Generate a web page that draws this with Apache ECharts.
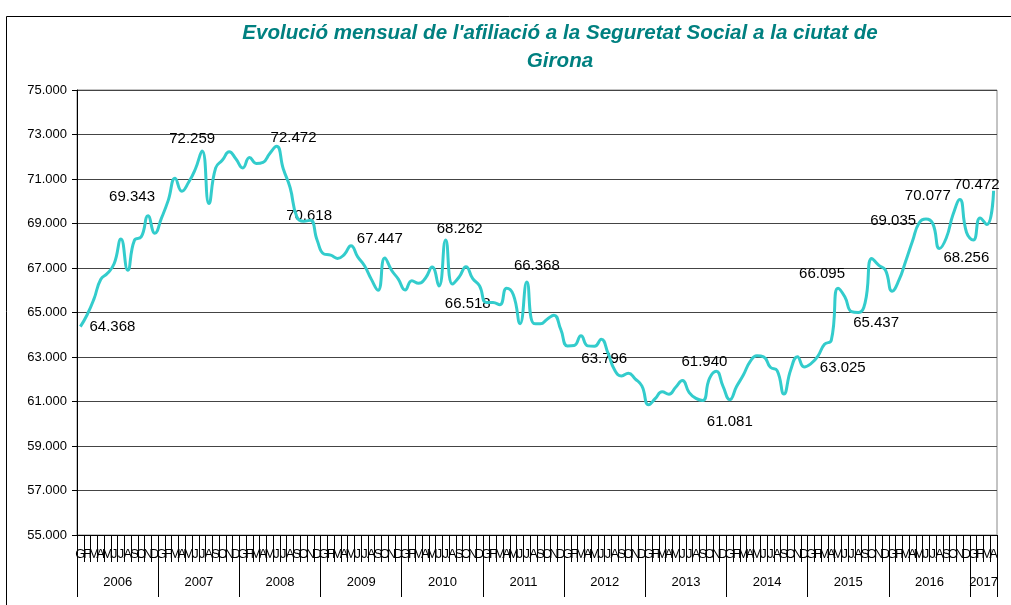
<!DOCTYPE html>
<html>
<head>
<meta charset="utf-8">
<title>Afiliació Seguretat Social Girona</title>
<script src="https://cdn.jsdelivr.net/npm/echarts@6/dist/echarts.min.js"></script>
<style>
    html, body { margin: 0; padding: 0; background: #fff; }
    #chart { width: 1011px; height: 605px; }
</style>
</head>
<body>
<div id="chart"></div>
<script>
// dades
const mesos = ['G', 'F', 'M', 'A', 'M', 'J', 'J', 'A', 'S', 'O', 'N', 'D'];
const anys = ['2006', '2007', '2008', '2009', '2010', '2011', '2012', '2013', '2014', '2015', '2016', '2017'];
const mesosPerAny = [12, 12, 12, 12, 12, 12, 12, 12, 12, 12, 12, 4];

const afiliats = [
    64368, 64900, 65600, 66480, 66760, 67200, 68300, 66900, 68250, 68400, 69343, 68560, // 2006
    69250, 70050, 71030, 70450, 70850, 71450, 72259, 69900, 71500, 71850, 72220, 71900, // 2007
    71500, 71970, 71700, 71750, 72150, 72472, 71450, 70618, 69300, 69100, 69150, 68250, // 2008
    67630, 67580, 67430, 67600, 68000, 67500, 67100, 66500, 66000, 67447, 66900, 66500, // 2009
    66010, 66430, 66310, 66540, 67040, 66190, 68262, 66280, 66600, 67060, 66518, 66200, // 2010
    65450, 65450, 65350, 66090, 65800, 64500, 66368, 64510, 64490, 64700, 64880, 64250, // 2011
    63500, 63520, 63950, 63500, 63480, 63796, 63170, 62400, 62150, 62270, 62020, 61700, // 2012
    60850, 61140, 61440, 61330, 61640, 61940, 61400, 61140, 61050, 62040, 62360, 61680, // 2013
    61081, 61670, 62190, 62790, 63060, 63010, 62540, 62390, 61340, 62420, 63010, 62550, // 2014
    62700, 63025, 63570, 63750, 66095, 65710, 65040, 65000, 65437, 67430, 67130, 66910, // 2015
    65960, 66450, 67300, 68200, 69035, 69200, 69000, 67880, 68350, 69400, 70077, 68600, // 2016
    68256, 69250, 68950, 70472                                                          // 2017
];

// mesos amb etiqueta de valor
const mesosEtiquetats = [0, 10, 18, 29, 31, 45, 54, 58, 66, 77, 89, 96, 109, 112, 116, 124, 130, 132, 135];
// desplaçament de cada etiqueta respecte al punt (px)
const desplEtiquetes = [
    [32, 0], [-16, -19], [-10, -12], [17, -8], [19, 28], [-5, -19], [14, -11], [-5, 25], [10, -16],
    [3, 20], [22, -19], [0, 22], [25, 11], [-16, -14], [11, 20], [-26, -2], [-32, -4], [-7, 18], [-17, -6]
];

const yMin = 55000, yMax = 75000, yPas = 2000;

const FONT = '"Liberation Sans", Arial, sans-serif';

function fmt(v) {
    return Math.round(v).toString().replace(/\B(?=(\d{3})+(?!\d))/g, '.');
}

document.addEventListener('DOMContentLoaded', () => {
    initChart();
});

function initChart() {
    const chartDom = document.getElementById('chart');
    const myChart = echarts.init(chartDom);

    // categories mensuals i fila d'anys
    const catMes = [];
    const catAny = [];
    const iniciAny = new Set();
    const etiquetaAny = new Set();
    anys.forEach((a, k) => {
        const inici = catMes.length;
        iniciAny.add(inici);
        etiquetaAny.add(inici + mesosPerAny[k] / 2 - 1);
        for (let m = 0; m < mesosPerAny[k]; m++) {
            catMes.push(mesos[m]);
            catAny.push(a);
        }
    });

    const option = {
        animation: false,
        backgroundColor: '#fff',
        title: {
            text: "Evolució mensual de l'afiliació a la Seguretat Social a la ciutat de\nGirona",
            left: 555,
            top: 14,
            textAlign: 'center',
            textStyle: {
                color: '#008080',
                fontFamily: FONT,
                fontSize: 20.6,
                fontWeight: 'bold',
                fontStyle: 'italic',
                lineHeight: 28
            }
        },
        graphic: [{
            type: 'rect',
            shape: { x: 6.5, y: 16.5, width: 1100, height: 700 },
            style: { fill: 'none', stroke: '#000', lineWidth: 1 },
            silent: true
        }],
        grid: {
            left: 77,
            right: 14,
            top: 90,
            bottom: 70,
            show: true,
            borderColor: '#888',
            borderWidth: 1
        },
        xAxis: [{
            type: 'category',
            data: catMes,
            position: 'bottom',
            boundaryGap: true,
            axisLine: { show: true, lineStyle: { color: '#000' } },
            axisTick: { show: true, interval: 0, length: 27, lineStyle: { color: '#000' } },
            axisLabel: { show: true, interval: 0, margin: 13, fontSize: 13, color: '#000', fontFamily: FONT },
            splitLine: { show: false }
        }, {
            type: 'category',
            data: catAny,
            position: 'bottom',
            boundaryGap: true,
            axisLine: { show: false },
            axisTick: {
                show: true,
                interval: (i) => iniciAny.has(i),
                length: 62,
                lineStyle: { color: '#000' }
            },
            axisLabel: {
                show: true,
                interval: (i) => etiquetaAny.has(i),
                margin: 41,
                fontSize: 13,
                color: '#000',
                fontFamily: FONT,
                padding: [0, 0, 0, 7]
            },
            splitLine: { show: false }
        }],
        yAxis: {
            type: 'value',
            min: yMin,
            max: yMax,
            interval: yPas,
            axisLine: { show: true, lineStyle: { color: '#000' } },
            axisTick: { show: true, length: 5, lineStyle: { color: '#000' } },
            axisLabel: {
                formatter: fmt,
                fontSize: 13,
                margin: 10,
                color: '#000',
                fontFamily: FONT
            },
            splitLine: { lineStyle: { color: '#444', width: 1 } }
        },
        series: [{
            type: 'line',
            data: afiliats,
            smooth: 0.5,
            symbol: 'none',
            lineStyle: { color: '#33CCCC', width: 3 },
            silent: true
        }, {
            type: 'scatter',
            data: mesosEtiquetats.map((m, k) => ({
                value: [m, afiliats[m]],
                label: { offset: desplEtiquetes[k] }
            })),
            symbolSize: 0,
            silent: true,
            itemStyle: { opacity: 1 },
            label: {
                show: true,
                position: 'inside',
                formatter: (p) => fmt(p.value[1]),
                fontSize: 15,
                color: '#000',
                opacity: 1,
                textBorderWidth: 0,
                fontFamily: FONT
            }
        }]
    };

    myChart.setOption(option);

    window.addEventListener('resize', () => {
        myChart.resize();
    });
}
</script>
</body>
</html>
